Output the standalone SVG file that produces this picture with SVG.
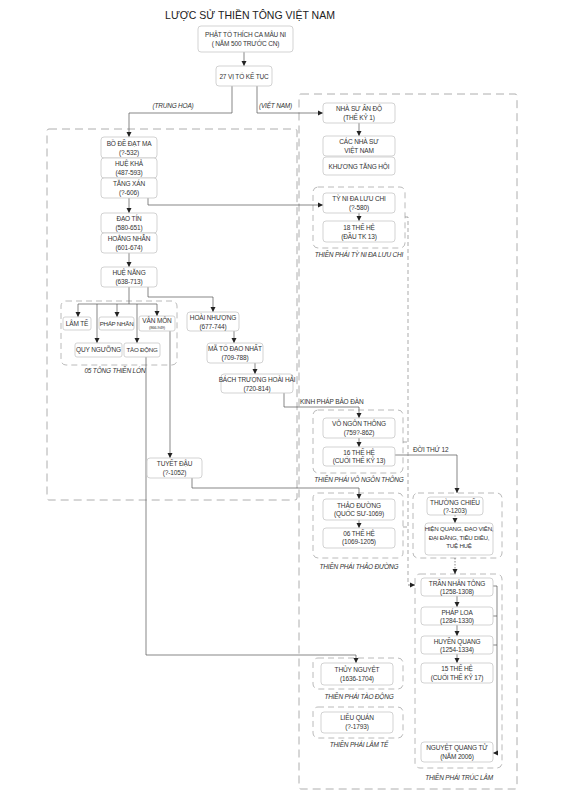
<svg xmlns="http://www.w3.org/2000/svg" width="566" height="800" viewBox="0 0 566 800">
<defs>
<marker id="ah" markerWidth="6" markerHeight="6" refX="5" refY="3" orient="auto" markerUnits="userSpaceOnUse"><path d="M0,0.5 L5,3 L0,5.5 Z" fill="#222"/></marker>
<style>
.bg{fill:#fff}
.node rect{fill:#fff;stroke:#c8c8c8;stroke-width:0.8}
.node text,.t{font-family:"Liberation Sans",Arial,sans-serif;font-size:6.5px;fill:#333;text-anchor:middle;letter-spacing:-0.15px}
.node text.s{font-size:6.2px;letter-spacing:-0.25px}
.big{fill:none;stroke:#9a9a9a;stroke-width:0.8;stroke-dasharray:8,5}
.grp{fill:none;stroke:#a8a8a8;stroke-width:0.8;stroke-dasharray:6,4}
.lbl{font-family:"Liberation Sans",Arial,sans-serif;font-size:6.5px;fill:#333;font-style:italic;letter-spacing:-0.2px}
.c{fill:none;stroke:#555;stroke-width:0.7}
.ca{fill:none;stroke:#555;stroke-width:0.7;marker-end:url(#ah)}
.cd{fill:none;stroke:#555;stroke-width:0.7;stroke-dasharray:1.5,1.5}
.cdash{fill:none;stroke:#888;stroke-width:0.7;stroke-dasharray:4,3}
.title{font-family:"Liberation Sans",Arial,sans-serif;font-size:10.5px;fill:#222;text-anchor:middle}
</style>
</defs>
<rect class="bg" x="0" y="0" width="566" height="800"/>
<text class="title" x="250" y="19">LƯỢC SỬ THIỀN TÔNG VIỆT NAM</text>

<g id="groups">
<rect class="big" x="47" y="129" width="250" height="371" rx="2"/>
<rect class="big" x="299" y="94" width="218" height="695" rx="2"/>
<rect class="grp" x="61" y="301" width="116" height="64" rx="5"/>
<text class="lbl" x="115" y="373" text-anchor="middle">05 TÔNG THIỀN LỚN</text>
<rect class="grp" x="313" y="187" width="92" height="61" rx="5"/>
<text class="lbl" x="359" y="257" text-anchor="middle">THIỀN PHÁI TỲ NI ĐA LƯU CHI</text>
<rect class="grp" x="313" y="410" width="90" height="63" rx="5"/>
<text class="lbl" x="359" y="482" text-anchor="middle">THIỀN PHÁI VÔ NGÔN THÔNG</text>
<rect class="grp" x="313" y="493" width="90" height="65" rx="5"/>
<text class="lbl" x="359" y="569" text-anchor="middle">THIỀN PHÁI THẢO ĐƯỜNG</text>
<rect class="grp" x="413" y="493" width="89" height="65" rx="5"/>
<rect class="grp" x="415" y="574" width="87" height="194" rx="5"/>
<text class="lbl" x="459" y="780" text-anchor="middle">THIỀN PHÁI TRÚC LÂM</text>
<rect class="grp" x="313" y="658" width="90" height="31" rx="5"/>
<text class="lbl" x="359" y="699" text-anchor="middle">THIỀN PHÁI TÀO ĐỘNG</text>
<rect class="grp" x="313" y="707" width="90" height="31" rx="5"/>
<text class="lbl" x="359" y="747" text-anchor="middle">THIỀN PHÁI LÂM TẾ</text>
</g>

<g id="connectors">
<path class="ca" d="M244,52 V66"/>
<path class="ca" d="M232,86 V113 H129 V137"/>
<path class="ca" d="M257,86 V113 H323"/>
<text class="lbl" x="173" y="108" text-anchor="middle">(TRUNG HOA)</text>
<text class="lbl" x="259" y="108">(VIỆT NAM)</text>
<path class="ca" d="M148,198 V205 H323"/>
<path class="ca" d="M129,198 V213"/>
<path class="ca" d="M129,253 V267"/>
<path class="c" d="M129,287 V304"/>
<path class="c" d="M78,304 H157"/>
<path class="ca" d="M78,304 V317"/>
<path class="ca" d="M117,304 V317"/>
<path class="ca" d="M157,304 V316"/>
<path class="ca" d="M97,304 V343"/>
<path class="ca" d="M137,304 V343"/>
<path class="ca" d="M148,287 V297 H213 V312"/>
<path class="ca" d="M234,331 V343"/>
<path class="ca" d="M255,363 V374"/>
<path class="ca" d="M284,393 V407 H359 V418"/>
<text class="t" x="300" y="404" style="text-anchor:start">KINH PHÁP BẢO ĐÀN</text>
<path class="ca" d="M170,331 V458"/>
<path class="ca" d="M192,478 V488 H359 V499"/>
<path class="ca" d="M146,357 V655 H356 V663"/>
<path class="ca" d="M359,123 V136"/>
<path class="ca" d="M359,213 V221"/>
<path class="ca" d="M359,438 V447"/>
<path class="ca" d="M395,455 H457 V493"/>
<text class="t" x="413" y="452" style="text-anchor:start">ĐỜI THỨ 12</text>
<path class="ca" d="M359,520 V528"/>
<path class="cd" d="M455,515 V520"/>
<path class="ca" d="M455,520 V523"/>
<path class="cd" d="M455,558 V570"/>
<path class="ca" d="M455,570 V574"/>
<path class="ca" d="M457,596 V607"/>
<path class="ca" d="M457,625 V636"/>
<path class="ca" d="M457,654 V663"/>
<path class="c" d="M493,586 H497 V753"/>
<path class="c" d="M493,616 H497"/>
<path class="c" d="M493,645 H497"/>
<path class="ca" d="M497,753 H493"/>
<path class="cdash" d="M405,217 H408 V585"/>
<path class="ca" d="M408,585 H415"/>
<path class="cdash" d="M403,442 H408"/>
<path class="cdash" d="M403,527 H408"/>
</g>

<g id="n-phatto" class="node"><rect x="198" y="26" width="95" height="26" rx="3"/><text x="245.5" y="37">PHẬT TỔ THÍCH CA MÂU NI</text><text x="245.5" y="46">( NĂM 500 TRƯỚC CN)</text></g>
<g id="n-27vi" class="node"><rect x="216" y="66" width="56" height="20" rx="3"/><text x="244" y="78.5">27 VỊ TỔ KẾ TỤC</text></g>
<g id="n-bode" class="node"><rect x="101" y="137" width="56" height="21" rx="3"/><text x="129" y="145.5">BỒ ĐỀ ĐẠT MA</text><text x="129" y="154.5">(?-532)</text></g>
<g id="n-huekha" class="node"><rect x="101" y="158" width="56" height="20" rx="3"/><text x="129" y="166">HUỆ KHẢ</text><text x="129" y="174.5">(487-593)</text></g>
<g id="n-tangxan" class="node"><rect x="101" y="178" width="56" height="20" rx="3"/><text x="129" y="186">TĂNG XÁN</text><text x="129" y="194.5">(?-606)</text></g>
<g id="n-daotin" class="node"><rect x="101" y="213" width="56" height="20" rx="3"/><text x="129" y="221">ĐẠO TÍN</text><text x="129" y="229.5">(580-651)</text></g>
<g id="n-hoangnhan" class="node"><rect x="101" y="233" width="56" height="20" rx="3"/><text x="129" y="241">HOẰNG NHẪN</text><text x="129" y="249.5">(601-674)</text></g>
<g id="n-huenang" class="node"><rect x="101" y="267" width="56" height="20" rx="3"/><text x="129" y="275">HUỆ NĂNG</text><text x="129" y="283.5">(638-713)</text></g>
<g id="n-lamte" class="node"><rect x="63" y="317" width="28" height="13" rx="2"/><text x="77" y="325.7">LÂM TẾ</text></g>
<g id="n-phapnhan" class="node"><rect x="99" y="317" width="35" height="13" rx="2"/><text class="s" x="116.5" y="325.7">PHÁP NHÃN</text></g>
<g id="n-vanmon" class="node"><rect x="139" y="316" width="36" height="15" rx="2"/><text x="157" y="323">VÂN MÔN</text><text x="157" y="329" style="font-size:4px">(866-949)</text></g>
<g id="n-quynguong" class="node"><rect x="75" y="343" width="47" height="14" rx="2"/><text x="98.5" y="352.3">QUY NGƯỠNG</text></g>
<g id="n-taodong" class="node"><rect x="124" y="343" width="36" height="14" rx="2"/><text class="s" x="142" y="352.3">TÀO ĐỘNG</text></g>
<g id="n-hoainhuong" class="node"><rect x="187" y="312" width="52" height="19" rx="3"/><text x="213" y="320">HOÀI NHƯỢNG</text><text x="213" y="328.5">(677-744)</text></g>
<g id="n-mato" class="node"><rect x="207" y="343" width="56" height="20" rx="3"/><text x="235" y="351">MÃ TỔ ĐẠO NHẤT</text><text x="235" y="360">(709-788)</text></g>
<g id="n-bachtruong" class="node"><rect x="221" y="374" width="72" height="19" rx="3"/><text x="257" y="382">BÁCH TRƯỢNG HOÀI HẢI</text><text x="257" y="390.5">(720-814)</text></g>
<g id="n-tuyetdau" class="node"><rect x="147" y="458" width="55" height="20" rx="3"/><text x="174.5" y="466">TUYẾT ĐẬU</text><text x="174.5" y="474.5">(?-1052)</text></g>
<g id="n-nhasu" class="node"><rect x="323" y="103" width="72" height="20" rx="3"/><text x="359" y="111">NHÀ SƯ ẤN ĐỘ</text><text x="359" y="119.5">(THẾ KỶ 1)</text></g>
<g id="n-cacnhasu" class="node"><rect x="323" y="136" width="72" height="20" rx="3"/><text x="359" y="144">CÁC NHÀ SƯ</text><text x="359" y="152.5">VIỆT NAM</text></g>
<g id="n-khuong" class="node"><rect x="323" y="157" width="72" height="18" rx="3"/><text x="359" y="168.5">KHƯƠNG TĂNG HỘI</text></g>
<g id="n-tyni" class="node"><rect x="323" y="193" width="72" height="20" rx="3"/><text x="359" y="201">TỲ NI ĐA LƯU CHI</text><text x="359" y="209.5">(?-580)</text></g>
<g id="n-18thehe" class="node"><rect x="323" y="221" width="72" height="21" rx="3"/><text x="359" y="229.5">18 THẾ HỆ</text><text x="359" y="238.5">(ĐẦU TK 13)</text></g>
<g id="n-vongon" class="node"><rect x="323" y="418" width="72" height="20" rx="3"/><text x="359" y="426">VÔ NGÔN THÔNG</text><text x="359" y="434.5">(759?-862)</text></g>
<g id="n-16thehe" class="node"><rect x="323" y="447" width="72" height="19" rx="3"/><text x="359" y="454.5">16 THẾ HỆ</text><text x="359" y="463">(CUỐI THẾ KỶ 13)</text></g>
<g id="n-thaoduong" class="node"><rect x="323" y="499" width="72" height="21" rx="3"/><text x="359" y="507.5">THẢO ĐƯỜNG</text><text x="359" y="516">(QUỐC SƯ-1069)</text></g>
<g id="n-06thehe" class="node"><rect x="323" y="528" width="72" height="20" rx="3"/><text x="359" y="535.5">06 THẾ HỆ</text><text x="359" y="544">(1069-1205)</text></g>
<g id="n-thuongchieu" class="node"><rect x="427" y="497" width="56" height="18" rx="3"/><text x="455" y="504.5">THƯỜNG CHIẾU</text><text x="455" y="512.5">(?-1203)</text></g>
<g id="n-hienquang" class="node"><rect x="425" y="523" width="68" height="32" rx="3"/><text class="s" x="459" y="531">HIỆN QUANG, ĐẠO VIÊN,</text><text class="s" x="459" y="539.5">ĐẠI ĐĂNG, TIÊU DIÊU,</text><text class="s" x="459" y="548">TUỆ HUỆ</text></g>
<g id="n-trannhantong" class="node"><rect x="421" y="578" width="72" height="18" rx="3"/><text x="457" y="585.5">TRẦN NHÂN TÔNG</text><text x="457" y="593.5">(1258-1308)</text></g>
<g id="n-phaploa" class="node"><rect x="421" y="607" width="72" height="18" rx="3"/><text x="457" y="614.5">PHÁP LOA</text><text x="457" y="622.5">(1284-1330)</text></g>
<g id="n-huyenquang" class="node"><rect x="421" y="636" width="72" height="18" rx="3"/><text x="457" y="643.5">HUYỀN QUANG</text><text x="457" y="651.5">(1254-1334)</text></g>
<g id="n-15thehe" class="node"><rect x="421" y="663" width="72" height="20" rx="3"/><text x="457" y="671">15 THẾ HỆ</text><text x="457" y="680">(CUỐI THẾ KỶ 17)</text></g>
<g id="n-nguyetquang" class="node"><rect x="421" y="742" width="72" height="20" rx="3"/><text x="457" y="750">NGUYỆT QUANG TỬ</text><text x="457" y="758.5">(NĂM 2006)</text></g>
<g id="n-thuynguyet" class="node"><rect x="321" y="663" width="72" height="22" rx="3"/><text x="357" y="672">THỦY NGUYỆT</text><text x="357" y="681">(1636-1704)</text></g>
<g id="n-lieuquan" class="node"><rect x="321" y="712" width="72" height="21" rx="3"/><text x="357" y="720">LIỄU QUÁN</text><text x="357" y="729">(?-1793)</text></g>
</svg>
